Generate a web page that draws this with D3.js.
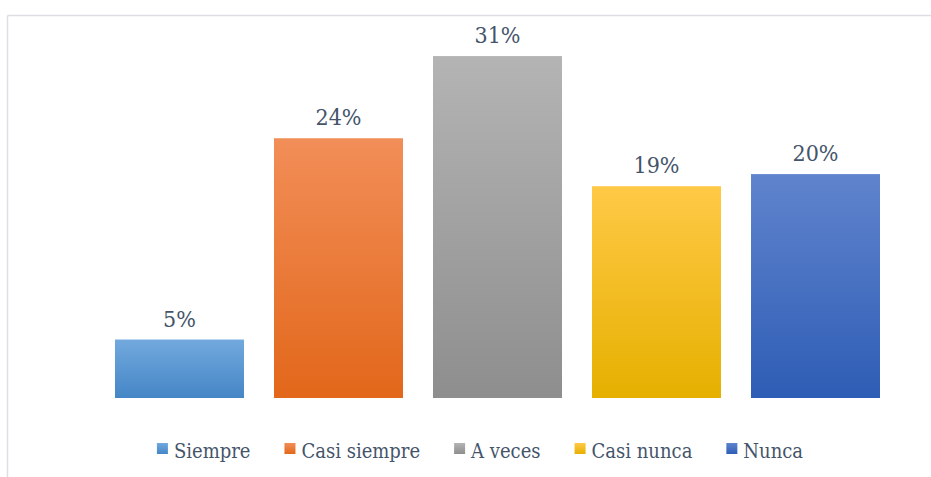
<!DOCTYPE html>
<html>
<head>
    <meta charset="utf-8">
    <title>Frecuencia</title>
    <script src="https://d3js.org/d3.v7.min.js"></script>
    <style>
        body { margin: 0; background: #fff; }
        svg text { font-family: "DejaVu Serif Condensed", "DejaVu Serif", serif; font-stretch: condensed; fill: #44546A; }
    </style>
</head>
<body>
    <div id="chart"></div>
    <script>
        // datos
        const categories = ["Siempre", "Casi siempre", "A veces", "Casi nunca", "Nunca"];
        const values = [0.053, 0.2355, 0.31, 0.192, 0.203];
        const topColors = ["#72A9DE", "#F28E58", "#B4B4B4", "#FFC947", "#6084CD"];
        const bottomColors = ["#4586C6", "#E2671A", "#8E8E8E", "#E6B000", "#2E5DB5"];

        const W = 931, H = 477;
        const baseY = 398;

        const svg = d3.select("#chart").append("svg")
            .attr("width", W).attr("height", H);

        // marco
        svg.append("line").attr("x1", 7.5).attr("x2", W).attr("y1", 15.5).attr("y2", 15.5)
            .attr("stroke", "#DDDFE5").attr("stroke-width", 1.5);
        svg.append("line").attr("x1", 7.5).attr("x2", 7.5).attr("y1", 15.5).attr("y2", H)
            .attr("stroke", "#DDDFE5").attr("stroke-width", 1.5);

        const x = d3.scaleBand()
            .domain(categories)
            .range([100, 895])
            .paddingInner(0.1887)
            .paddingOuter(0.0943);

        const y = d3.scaleLinear()
            .domain([0, 0.35])
            .range([baseY, baseY - 0.35 * 1103]);

        const defs = svg.append("defs");
        categories.forEach((c, i) => {
            const g = defs.append("linearGradient")
                .attr("id", "grad" + i)
                .attr("x1", "0%").attr("y1", "0%").attr("x2", "0%").attr("y2", "100%");
            g.append("stop").attr("offset", "0%").attr("stop-color", topColors[i]);
            g.append("stop").attr("offset", "100%").attr("stop-color", bottomColors[i]);
        });

        svg.selectAll("rect.bar")
            .data(values)
            .enter().append("rect")
            .attr("class", "bar")
            .attr("x", (d, i) => x(categories[i]))
            .attr("y", d => y(d))
            .attr("width", x.bandwidth())
            .attr("height", d => baseY - y(d))
            .attr("fill", (d, i) => `url(#grad${i})`);

        const fmt = d3.format(".0%");
        svg.selectAll("text.label")
            .data(values)
            .enter().append("text")
            .attr("class", "label")
            .attr("x", (d, i) => x(categories[i]) + x.bandwidth() / 2)
            .attr("y", d => y(d) - 13)
            .attr("text-anchor", "middle")
            .style("font-size", "23px")
            .text(d => fmt(d));

        // leyenda
        const legend = svg.append("g");
        let lx = 0;
        categories.forEach((c, i) => {
            const item = legend.append("g").attr("transform", `translate(${lx},0)`);
            item.append("rect")
                .attr("x", 0).attr("y", 443)
                .attr("width", 11).attr("height", 11)
                .attr("fill", `url(#grad${i})`);
            const t = item.append("text")
                .attr("x", 17).attr("y", 458)
                .style("font-size", "20px")
                .text(c);
            lx += 17 + t.node().getComputedTextLength() + 34;
        });
        const legendW = lx - 34;
        legend.attr("transform", `translate(${480 - legendW / 2},0)`);
    </script>
</body>
</html>
